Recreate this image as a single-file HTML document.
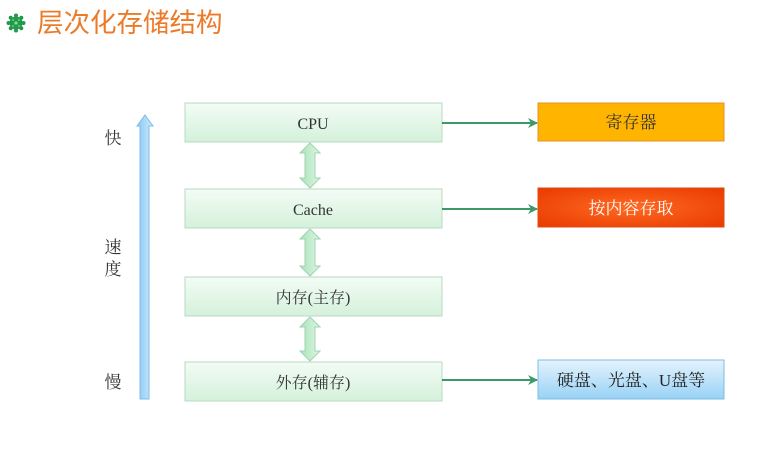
<!DOCTYPE html>
<html><head><meta charset="utf-8"><style>
html,body{margin:0;padding:0;background:#fff;}
svg{display:block;}
text{font-family:"Liberation Serif","Noto Serif CJK SC",serif;}
</style></head><body>
<svg width="766" height="460" viewBox="0 0 766 460" xmlns="http://www.w3.org/2000/svg">
<defs>
<linearGradient id="gb" x1="0" y1="0" x2="0" y2="1"><stop offset="0" stop-color="#f3fcf5"/><stop offset="1" stop-color="#d4f1db"/></linearGradient>
<linearGradient id="bl" x1="0" y1="0" x2="0" y2="1"><stop offset="0" stop-color="#e4f3fd"/><stop offset="1" stop-color="#98d2f6"/></linearGradient>
<radialGradient id="rd" cx="0.5" cy="0.5" r="0.7"><stop offset="0" stop-color="#ff6a22"/><stop offset="1" stop-color="#e83a00"/></radialGradient>
<linearGradient id="dv" x1="0" y1="0" x2="1" y2="0"><stop offset="0" stop-color="#a8e3b8"/><stop offset="1" stop-color="#dff5e5"/></linearGradient>
<linearGradient id="va" x1="0" y1="0" x2="1" y2="0"><stop offset="0" stop-color="#8cc8f4"/><stop offset="1" stop-color="#cde9fb"/></linearGradient>
<marker id="ah" markerWidth="10" markerHeight="10" refX="9" refY="5" orient="auto" markerUnits="userSpaceOnUse"><path d="M0,0 L10,5 L0,10 L3,5 Z" fill="#3d9a67"/></marker>
</defs>
<!-- title icon -->
<g fill="#1f9a48">
<circle cx="16" cy="23" r="6.5"/>
<circle cx="16" cy="15.5" r="2"/><circle cx="16" cy="30.5" r="2"/><circle cx="8.5" cy="23" r="2"/><circle cx="23.5" cy="23" r="2"/>
<circle cx="10.7" cy="17.7" r="2"/><circle cx="21.3" cy="17.7" r="2"/><circle cx="10.7" cy="28.3" r="2"/><circle cx="21.3" cy="28.3" r="2"/>
</g>
<g fill="#8fd3a6"><circle cx="16" cy="23" r="1.6"/><circle cx="13" cy="20" r="0.9"/><circle cx="19" cy="20" r="0.9"/><circle cx="13" cy="26" r="0.9"/><circle cx="19" cy="26" r="0.9"/></g>
<text x="37" y="32" font-size="26.5" fill="#ec7a28" style='font-family:"Noto Sans CJK SC",sans-serif'>层次化存储结构</text>
<!-- speed arrow -->
<path d="M145,115 L153,126 L149,126 L149,399 L140,399 L140,126 L137,126 Z" fill="url(#va)" stroke="#7bbcea" stroke-width="1"/>
<text x="113" y="144" font-size="17" fill="#333" text-anchor="middle">快</text>
<text x="113" y="253" font-size="17" fill="#333" text-anchor="middle">速</text>
<text x="113" y="275" font-size="17" fill="#333" text-anchor="middle">度</text>
<text x="113" y="388" font-size="17" fill="#333" text-anchor="middle">慢</text>
<!-- left boxes -->
<g stroke="#b9d9c2" stroke-width="1" fill="url(#gb)">
<rect x="185" y="103" width="257" height="39"/>
<rect x="185" y="189" width="257" height="39"/>
<rect x="185" y="277" width="257" height="39"/>
<rect x="185" y="362" width="257" height="39"/>
</g>
<g font-size="16" fill="#333" text-anchor="middle">
<text x="313" y="129">CPU</text>
<text x="313" y="215">Cache</text>
<text x="313" y="303">内存(主存)</text>
<text x="313" y="388">外存(辅存)</text>
</g>
<!-- double arrows -->
<g fill="url(#dv)" stroke="#9fd4ae" stroke-width="1">
<path d="M310,143 L320,153 L315,153 L315,178 L320,178 L310,188 L300,178 L305,178 L305,153 L300,153 Z"/>
<path d="M310,229 L320,239 L315,239 L315,266 L320,266 L310,276 L300,266 L305,266 L305,239 L300,239 Z"/>
<path d="M310,317 L320,327 L315,327 L315,351 L320,351 L310,361 L300,351 L305,351 L305,327 L300,327 Z"/>
</g>
<!-- connectors -->
<g stroke="#3d9a67" stroke-width="2" marker-end="url(#ah)">
<line x1="442" y1="123" x2="537" y2="123"/>
<line x1="442" y1="209" x2="537" y2="209"/>
<line x1="442" y1="380" x2="537" y2="380"/>
</g>
<!-- right boxes -->
<rect x="538" y="103" width="186" height="38" fill="#ffb400" stroke="#e8902a"/>
<rect x="538" y="188" width="186" height="39" fill="url(#rd)" stroke="#e04a10"/>
<rect x="538" y="360" width="186" height="39" fill="url(#bl)" stroke="#7cbde6"/>
<g font-size="17" text-anchor="middle">
<text x="631" y="128" fill="#333">寄存器</text>
<text x="631" y="214" fill="#fff">按内容存取</text>
<text x="631" y="386" fill="#222">硬盘、光盘、U盘等</text>
</g>
</svg>
</body></html>
